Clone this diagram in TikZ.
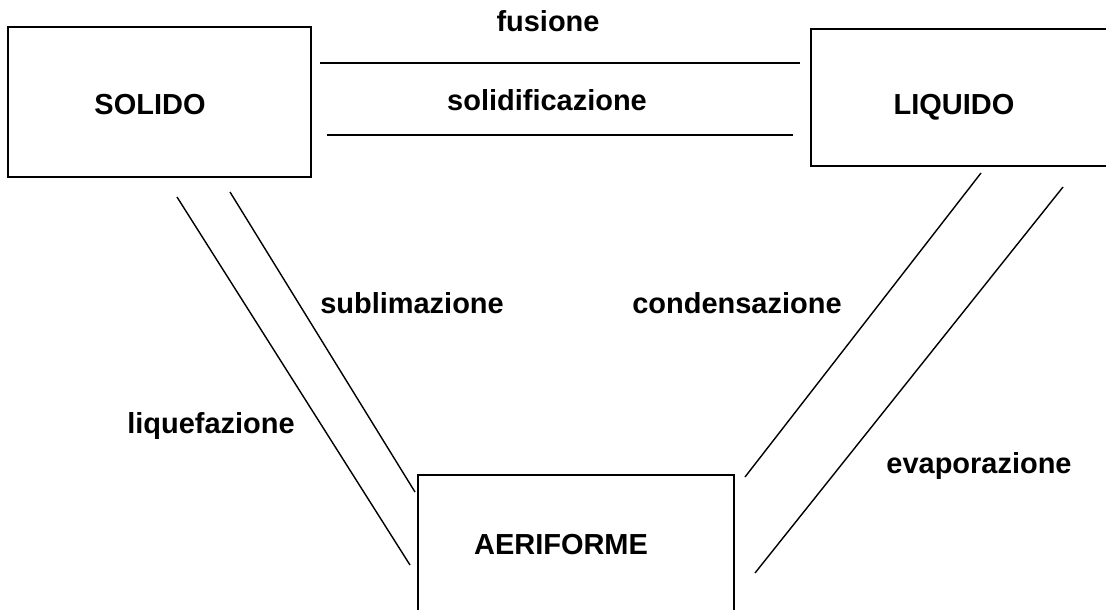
\documentclass[tikz,border=0pt]{standalone}
\usepackage{fontspec}
\setmainfont{Liberation Sans}
\usepackage{tikz}

\tikzset{
  stato/.style={draw,line width=1.3pt,inner sep=0pt},
  passo/.style={inner sep=0pt,text height=0.72em,text depth=0pt,font=\fontsize{20.6pt}{24pt}\selectfont\bfseries},
  tratto/.style={line width=1pt}
}

\begin{document}
\begin{tikzpicture}[x=0.025cm,y=-0.025cm]
\useasboundingbox (0,0) rectangle (1106,610);

  \node (S) at (159.5,102) [stato,minimum width=7.575cm,minimum height=3.75cm] {};
  \node (L) at (961.5,97.5) [stato,minimum width=7.525cm,minimum height=3.425cm] {};
  \node (A) at (576,545) [stato,minimum width=7.9cm,minimum height=3.5cm] {};

  \node (Snome) at (150,109) [passo] {SOLIDO};
  \node (Lnome) at (954,109) [passo] {LIQUIDO};
  \node (Anome) at (561,549) [passo] {AERIFORME};

  \coordinate (f1) at (320,63);   \coordinate (f2) at (800,63);
  \coordinate (s1) at (327,135);  \coordinate (s2) at (793,135);
  \coordinate (q1) at (177,197);  \coordinate (q2) at (410,565);
  \coordinate (b1) at (230,192);  \coordinate (b2) at (415,492);
  \coordinate (c1) at (981,173);  \coordinate (c2) at (745,477);
  \coordinate (e1) at (1063,187); \coordinate (e2) at (755,573);

  \node (fus) at (548,26) [passo] {fusione};
  \node (sol) at (547,105) [passo] {solidificazione};
  \node (liq) at (211,428) [passo] {liquefazione};
  \node (sub) at (412,308) [passo] {sublimazione};
  \node (con) at (737,308) [passo] {condensazione};
  \node (eva) at (979,468) [passo] {evaporazione};

\draw[tratto]
   (f1) -- (f2)
   (s1) -- (s2);

\draw[tratto]
   (q1) -- (q2)
   (b1) -- (b2)
   (c1) -- (c2)
   (e1) -- (e2);
\end{tikzpicture}
\end{document}
